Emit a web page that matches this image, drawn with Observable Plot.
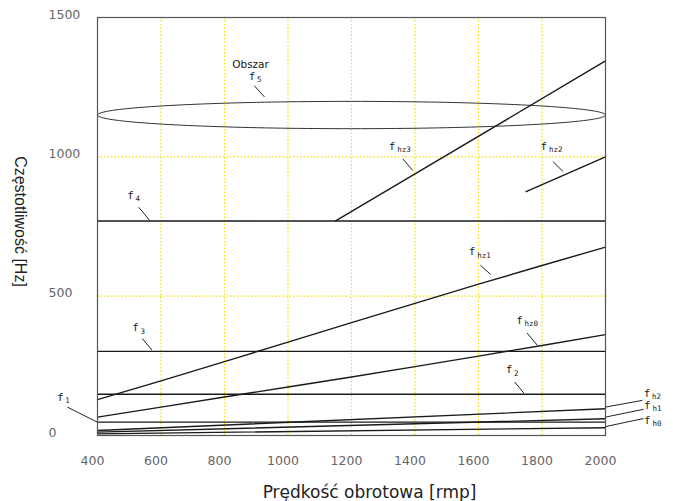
<!DOCTYPE html>
<html>
<head>
<meta charset="utf-8">
<script src="https://cdn.jsdelivr.net/npm/d3@7"></script>
<script src="https://cdn.jsdelivr.net/npm/@observablehq/plot@0.6"></script>
<style>
  html, body { margin: 0; padding: 0; background: #fff; }
  #chart { width: 673px; height: 501px; }
</style>
</head>
<body>
<div id="chart"></div>
<script>
// ---- data ----
const xTicks = [400, 600, 800, 1000, 1200, 1400, 1600, 1800, 2000];
const yTicks = [0, 500, 1000, 1500];
const xGrid = [600, 800, 1000, 1200, 1400, 1600, 1800];
const yGrid = [500, 1000];

const rpm = [400, 600, 800, 1000, 1200, 1400, 1600, 1800, 2000];
const fhz1 = [129, 196, 265, 335, 405, 474, 543, 610, 676];
const fhz0 = [66, 102, 138, 174, 210, 247, 285, 323, 362];

const rpmEnds = [400, 2000];
const fh0 = [6, 28];
const fh1 = [12, 60];
const fh2 = [18, 96];

const fhz3Rpm = [1150, 2000];
const fhz3 = [770, 1344];
const fhz2Rpm = [1750, 2000];
const fhz2 = [875, 1000];

const f1 = 48, f2 = 148, f3 = 302, f4 = 770;

// region f5 (ellipse): centre and half-widths in data units
const f5Center = [1200, 1150];
const f5Radius = [800, 49];

// labels (subscript names) and their anchor points
const labelNames = ["1", "2", "3", "4", "5", "hz3", "hz2", "hz1", "hz0", "h2", "h1", "h0"];
const labelX = [283, 1696, 520, 504, 887, 1328, 1806, 1580, 1729, 2131, 2132, 2132];
const labelY = [138, 236, 386, 863, 1289, 1037, 1037, 659, 414, 151, 108, 54];
// leader lines
const leadX1 = [305, 1714, 541, 530, 894, 1362, 1835, 1606, 1753, 2000, 2000, 2000];
const leadY1 = [102, 192, 348, 819, 1255, 992, 983, 611, 368, 102, 66, 32];
const leadX2 = [399, 1743, 572, 565, 926, 1393, 1866, 1638, 1785, 2116, 2120, 2120];
const leadY2 = [48, 152, 306, 771, 1215, 951, 947, 578, 324, 126, 94, 61];

// ---- build tables ----
const series = [];
rpm.forEach((r, i) => { series.push({s: "fhz1", x: r, y: fhz1[i]}); series.push({s: "fhz0", x: r, y: fhz0[i]}); });
rpmEnds.forEach((r, i) => {
  series.push({s: "fh0", x: r, y: fh0[i]});
  series.push({s: "fh1", x: r, y: fh1[i]});
  series.push({s: "fh2", x: r, y: fh2[i]});
  series.push({s: "f1", x: r, y: f1});
  series.push({s: "f2", x: r, y: f2});
  series.push({s: "f3", x: r, y: f3});
  series.push({s: "f4", x: r, y: f4});
});
fhz3Rpm.forEach((r, i) => series.push({s: "fhz3", x: r, y: fhz3[i]}));
fhz2Rpm.forEach((r, i) => series.push({s: "fhz2", x: r, y: fhz2[i]}));

const ellipse = d3.range(0, 361, 2).map(a => ({
  x: f5Center[0] + f5Radius[0] * Math.cos(a * Math.PI / 180),
  y: f5Center[1] + f5Radius[1] * Math.sin(a * Math.PI / 180)
}));

const labels = labelNames.map((n, i) => ({n, x: labelX[i], y: labelY[i]}));
const leaders = labelNames.map((n, i) => ({x1: leadX1[i], y1: leadY1[i], x2: leadX2[i], y2: leadY2[i]}));

const chart = Plot.plot({
  width: 673,
  height: 501,
  marginLeft: 97,
  marginRight: 68,
  marginTop: 17,
  marginBottom: 66,
  style: {fontFamily: "DejaVu Sans", background: "#fff"},
  x: {domain: [400, 2000], axis: null},
  y: {domain: [0, 1500], axis: null},
  marks: [
    Plot.ruleX(xGrid, {stroke: "#f2e000", strokeWidth: 1.2, strokeDasharray: "1.5,2"}),
    Plot.ruleY(yGrid, {stroke: "#f2e000", strokeWidth: 1.2, strokeDasharray: "1.5,2"}),
    Plot.line(ellipse, {x: "x", y: "y", stroke: "#333", strokeWidth: 1}),
    Plot.line(series, {x: "x", y: "y", z: "s", stroke: "#1a1a1a", strokeWidth: 1.4}),
    Plot.frame({stroke: "#555", strokeWidth: 1.2}),
    Plot.link(leaders, {x1: "x1", y1: "y1", x2: "x2", y2: "y2", stroke: "#222", strokeWidth: 1}),
    Plot.text(labels, {x: "x", y: "y", text: () => "f", fontSize: 11, fill: "#222", fontFamily: "DejaVu Sans Mono"}),
    Plot.text(labels, {x: "x", y: "y", text: "n", fontSize: 7.5, fill: "#222", textAnchor: "start", dx: 5, dy: 3.5, fontFamily: "DejaVu Sans Mono"}),
    Plot.text(["Obszar"], {x: () => 882, y: () => 1331, fontSize: 10.5, fill: "#222"}),
    Plot.text(xTicks, {x: d => d, text: d => String(d), frameAnchor: "bottom", lineAnchor: "middle", dy: 25, dx: -5, fontSize: 12.5, fill: "#666"}),
    Plot.text(yTicks, {y: d => d, text: d => String(d), frameAnchor: "left", textAnchor: "start", lineAnchor: "middle", dx: -49, dy: -3, fontSize: 12.5, fill: "#666"}),
    Plot.text(["Prędkość obrotowa [rmp]"], {frameAnchor: "bottom", lineAnchor: "middle", textAnchor: "middle", dy: 57, dx: 18, fontSize: 17, fill: "#222"}),
    Plot.text(["Częstotliwość [Hz]"], {frameAnchor: "left", textAnchor: "middle", lineAnchor: "middle", rotate: 90, dx: -77, dy: -5, fontSize: 16, fill: "#222", fontFamily: "Liberation Sans"})
  ]
});
document.getElementById("chart").appendChild(chart);
</script>
</body>
</html>
